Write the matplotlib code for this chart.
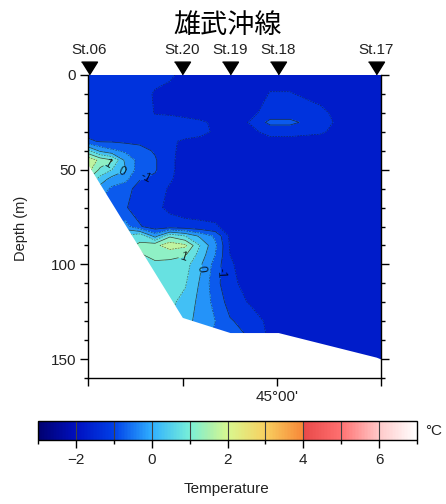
import numpy as np
import matplotlib
matplotlib.use('Agg')
import matplotlib.pyplot as plt
from matplotlib.colors import LinearSegmentedColormap, Normalize
from matplotlib.cm import ScalarMappable
from matplotlib.ticker import FixedLocator, FixedFormatter, MultipleLocator
from matplotlib.transforms import blended_transform_factory

plt.rcParams['font.family'] = ['Liberation Sans', 'DejaVu Sans']

# ---- stations on the Oumu line ----
stations = ['St.06', 'St.20', 'St.19', 'St.18', 'St.17']
station_lat = [44.668, 44.833, 44.917, 45.002, 45.175]

# bottom profile (lat, depth m), frame ends included
bottom_lat = [44.6667, 44.668, 44.833, 44.917, 45.002, 45.175, 45.1833]
bottom_depth = [47.5, 48, 128, 136, 136, 149, 150]

# ---- gridded temperature section (deg C) ----
grid_lat = [44.667, 44.688, 44.709, 44.732, 44.758, 44.785, 44.811, 44.838,
            44.864, 44.891, 44.917, 44.952, 44.988, 45.023, 45.076, 45.129, 45.183]
grid_depth = [0, 10, 20, 25, 30, 35, 40, 45, 50, 55, 60, 70, 80, 85, 90, 95,
              100, 110, 120, 130, 140, 150]

# one list per latitude column, values top -> bottom
temp_profiles = [
    [-1.3, -1.3, -1.3, -1.3, -1.2, -0.9, 0.6, 1.9, 1.7, 1.0, 0.2, -0.5, -0.6, -0.5, 0.0, 0.3, 0.5, 0.6, 0.6, 0.5, 0.3, 0.2],
    [-1.3, -1.3, -1.3, -1.3, -1.25, -1.05, -0.1, 1.35, 0.9, 0.3, -0.2, -0.6, -0.6, -0.3, 0.3, 0.6, 0.7, 0.7, 0.6, 0.5, 0.3, 0.2],
    [-1.3, -1.3, -1.3, -1.3, -1.25, -1.05, -0.4, 1.05, 0.5, -0.2, -0.6, -0.75, -0.5, 0.1, 0.6, 0.8, 0.8, 0.8, 0.7, 0.6, 0.4, 0.3],
    [-1.3, -1.3, -1.3, -1.3, -1.25, -1.1, -0.6, -0.1, 0.05, -0.35, -0.8, -0.95, -0.3, 0.6, 0.9, 0.9, 0.9, 0.8, 0.7, 0.6, 0.4, 0.3],
    [-1.3, -1.3, -1.3, -1.3, -1.25, -1.1, -0.85, -0.7, -0.8, -0.97, -1.2, -1.25, -0.95, 0.9, 1.05, 0.95, 0.9, 0.8, 0.7, 0.6, 0.4, 0.3],
    [-1.35, -1.55, -1.52, -1.4, -1.3, -1.2, -1.05, -0.95, -0.95, -1.1, -1.3, -1.4, -1.3, -0.2, 1.35, 1.15, 0.9, 0.8, 0.7, 0.6, 0.4, 0.3],
    [-1.45, -1.6, -1.55, -1.35, -1.3, -1.45, -1.4, -1.4, -1.4, -1.45, -1.55, -1.6, -1.3, 0.9, 1.8, 1.1, 0.9, 0.75, 0.6, 0.5, 0.4, 0.3],
    [-1.6, -1.65, -1.6, -1.4, -1.35, -1.55, -1.65, -1.7, -1.7, -1.7, -1.7, -1.7, -1.35, 0.5, 1.6, 1.05, 0.7, 0.55, 0.35, 0.2, 0.1, 0.0],
    [-1.65, -1.7, -1.65, -1.45, -1.4, -1.6, -1.7, -1.7, -1.7, -1.7, -1.7, -1.7, -1.4, -0.1, 0.5, 0.3, 0.1, -0.05, -0.15, -0.2, -0.3, -0.4],
    [-1.7, -1.7, -1.68, -1.55, -1.55, -1.68, -1.7, -1.7, -1.7, -1.7, -1.7, -1.7, -1.45, -0.6, -0.4, -0.5, -0.7, -0.8, -0.65, -0.5, -0.6, -0.7],
    [-1.7, -1.7, -1.7, -1.65, -1.65, -1.7, -1.7, -1.7, -1.7, -1.7, -1.7, -1.7, -1.65, -1.6, -1.55, -1.5, -1.45, -1.4, -1.2, -0.95, -0.9, -0.9],
    [-1.7, -1.7, -1.62, -1.48, -1.6, -1.7, -1.7, -1.7, -1.7, -1.7, -1.7, -1.7, -1.7, -1.7, -1.7, -1.7, -1.7, -1.65, -1.55, -1.2, -1.0, -1.0],
    [-1.65, -1.48, -1.32, -0.85, -1.38, -1.62, -1.7, -1.7, -1.7, -1.7, -1.7, -1.7, -1.7, -1.7, -1.7, -1.7, -1.7, -1.7, -1.7, -1.65, -1.6, -1.6],
    [-1.65, -1.48, -1.32, -0.85, -1.38, -1.62, -1.7, -1.7, -1.7, -1.7, -1.7, -1.7, -1.7, -1.7, -1.7, -1.7, -1.7, -1.7, -1.7, -1.7, -1.7, -1.7],
    [-1.7, -1.62, -1.42, -1.35, -1.45, -1.65, -1.7, -1.7, -1.7, -1.7, -1.7, -1.7, -1.7, -1.7, -1.7, -1.7, -1.7, -1.7, -1.7, -1.7, -1.7, -1.7],
    [-1.7, -1.7, -1.7, -1.7, -1.7, -1.7, -1.7, -1.7, -1.7, -1.7, -1.7, -1.7, -1.7, -1.7, -1.7, -1.7, -1.7, -1.7, -1.7, -1.7, -1.7, -1.7],
    [-1.7, -1.7, -1.7, -1.7, -1.7, -1.7, -1.7, -1.7, -1.7, -1.7, -1.7, -1.7, -1.7, -1.7, -1.7, -1.7, -1.7, -1.7, -1.7, -1.7, -1.7, -1.7],
]
temp = np.array(temp_profiles).T

# colour table, -3 .. 7 deg C
cpt_values = [-3, -2, -1, 0, 1, 1.5, 2, 3, 3.99, 4, 5, 6, 7]
cpt_colors = ['#000070', '#0010c0', '#0040e8', '#30b0ff', '#78f0d8', '#a8f0b0',
              '#d8f890', '#f8d060', '#f88838', '#e84848', '#ff7070', '#ffc8c8', '#ffffff']
tmin, tmax = -3, 7
cmap = LinearSegmentedColormap.from_list(
    'sst', [((v - tmin) / (tmax - tmin), c) for v, c in zip(cpt_values, cpt_colors)])
norm = Normalize(tmin, tmax)

fill_levels = np.arange(-3, 7.01, 0.5)
line_half = [-1.5, -0.5, 0.5, 1.5]
line_int = [-1, 0, 1]

fig = plt.figure(figsize=(4.46, 5.04), dpi=100)
ax = fig.add_axes([88 / 446, 1 - 378 / 504, 293 / 446, 303 / 504])

ax.contourf(grid_lat, grid_depth, temp, levels=fill_levels, cmap=cmap, norm=norm, zorder=1)
ax.contour(grid_lat, grid_depth, temp, levels=line_half, colors='#1a1a1a',
           linewidths=0.5, linestyles=[(0, (2.5, 1.5))], alpha=0.6, zorder=2)
cs = ax.contour(grid_lat, grid_depth, temp, levels=line_int, colors='#1a1a1a',
                linewidths=0.5, linestyles='solid', alpha=0.8, zorder=2)
label_pos = [(44.702, 47.5), (44.727, 51.2), (44.771, 55.5),
             (44.832, 94), (44.861, 102), (44.894, 104.6)]
ax.clabel(cs, manual=label_pos, fmt='%d', fontsize=8.5, inline=True, inline_spacing=1,
          colors='black')

# sea floor
ax.fill_between(bottom_lat, bottom_depth, 200, color='white', lw=0, zorder=3)

ax.set_xlim(44 + 40 / 60, 45 + 11 / 60)
ax.set_ylim(160, 0)

ax.spines['top'].set_visible(False)
for s in ['left', 'right', 'bottom']:
    ax.spines[s].set_linewidth(1.0)
    ax.spines[s].set_zorder(5)

xt = [44 + 40 / 60, 44 + 50 / 60, 45.0, 45 + 11 / 60]
ax.xaxis.set_major_locator(FixedLocator(xt))
ax.xaxis.set_major_formatter(FixedFormatter(['', '', "45°00'", '']))
ax.yaxis.set_major_locator(FixedLocator([0, 50, 100, 150]))
ax.yaxis.set_minor_locator(MultipleLocator(10))
ax.tick_params(which='major', direction='out', length=5.5, width=1, right=True,
               top=False, labelsize=11, labelcolor='#222222', pad=3)
ax.tick_params(which='minor', direction='out', length=3, width=1, right=True, top=False)

# station marks on the top edge
trans = blended_transform_factory(ax.transData, ax.transAxes)
tri = [(-1, 0.8), (1, 0.8), (0, -0.8)]
ax.plot(station_lat, [1.0215] * len(station_lat), linestyle='none', marker=tri,
        ms=11.5, color='black', transform=trans, clip_on=False, zorder=6)
for name, lat in zip(stations, station_lat):
    ax.text(lat, 1.0825, name, transform=trans, ha='center', va='center',
            fontsize=11, color='#222222')

fig.text(228 / 446, 1 - 25 / 504, '雄武沖線', fontsize=19.5, ha='center', va='center',
         family=['Noto Sans CJK JP', 'DejaVu Sans'])
fig.text(21 / 446, 1 - 228 / 504, 'Depth (m)', rotation=90, fontsize=10.5,
         ha='center', va='center', color='#222222')

# colour bar
cax = fig.add_axes([38 / 446, 1 - 440 / 504, 379 / 446, 19 / 504])
cb = fig.colorbar(ScalarMappable(norm=norm, cmap=cmap), cax=cax, orientation='horizontal')
cb.set_ticks([-2, 0, 2, 4, 6])
cb.ax.xaxis.set_minor_locator(FixedLocator([-3, -1, 1, 3, 5, 7]))
cb.ax.tick_params(which='major', direction='out', length=6, width=1,
                  labelsize=11, labelcolor='#222222', pad=3)
cb.ax.tick_params(which='minor', direction='out', length=3, width=1)
cb.outline.set_linewidth(1.0)
for v in np.arange(-2, 7):
    cax.axvline(v, color='#404040', lw=0.8)

fig.text(425 / 446, 1 - 431 / 504, '°C', fontsize=11, ha='left', va='center',
         color='#222222')
fig.text(227 / 446, 1 - 489 / 504, 'Temperature', fontsize=11, ha='center', va='center',
         color='#222222')

fig.savefig('out.png', dpi=100)
